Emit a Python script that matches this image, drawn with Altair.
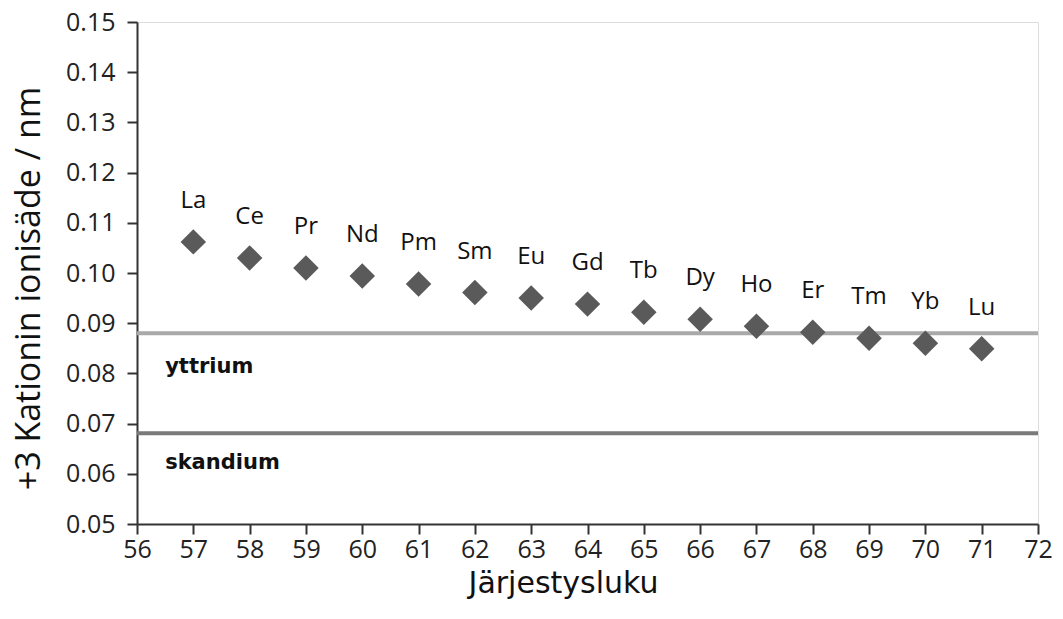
import altair as alt
import pandas as pd

elements = ["La", "Ce", "Pr", "Nd", "Pm", "Sm", "Eu", "Gd", "Tb", "Dy", "Ho", "Er", "Tm", "Yb", "Lu"]
atomic_numbers = [57, 58, 59, 60, 61, 62, 63, 64, 65, 66, 67, 68, 69, 70, 71]
radii = [0.1062, 0.1030, 0.1010, 0.0994, 0.0978, 0.0961, 0.0950, 0.0938, 0.0922, 0.0908, 0.0894, 0.0882, 0.0870, 0.0860, 0.0849]

ref_names = ["yttrium", "skandium"]
ref_values = [0.0880, 0.0681]
ref_label_y = [0.0813, 0.0621]
ref_colors = ["#a9a9a9", "#7a7a7a"]

df = pd.DataFrame({"el": elements, "z": atomic_numbers, "r": radii})
refs = pd.DataFrame({"name": ref_names, "r": ref_values, "ly": ref_label_y, "c": ref_colors, "x": [56.5, 56.5]})

FONT = "Open Sans"

xscale = alt.Scale(domain=[56, 72], nice=False, zero=False)
yscale = alt.Scale(domain=[0.05, 0.15], nice=False, zero=False)

xaxis = alt.Axis(values=list(range(56, 73)), format="d", grid=False, title="Järjestysluku",
                 labelFont=FONT, labelFontSize=25, labelColor="#222", titleFont="DejaVu Sans",
                 titleFontSize=30, titleFontWeight="normal", titleColor="#111",
                 titleX=426, titleY=59, titleAlign="center", titleBaseline="middle",
                 domainColor="#333", domainWidth=2, tickColor="#333", tickWidth=2, tickSize=10,
                 labelPadding=3, labelFlush=False)
yaxis = alt.Axis(values=[0.05, 0.06, 0.07, 0.08, 0.09, 0.10, 0.11, 0.12, 0.13, 0.14, 0.15], format=".2f",
                 grid=False, title="+3 Kationin ionisäde / nm",
                 labelFont=FONT, labelFontSize=25, labelColor="#222", titleFont=FONT,
                 titleFontSize=34, titleFontWeight="normal", titleColor="#111",
                 titleX=-108, titleY=266, titleAlign="center", titleBaseline="middle", titleAngle=270,
                 domainColor="#333", domainWidth=2, tickColor="#333", tickWidth=2, tickSize=10,
                 labelPadding=12, labelFlush=False)

rules = alt.Chart(refs).mark_rule(strokeWidth=4).encode(
    y=alt.Y("r:Q", scale=yscale, axis=yaxis),
    color=alt.Color("c:N", scale=None),
)

ref_text = alt.Chart(refs).mark_text(align="left", baseline="middle", font="DejaVu Sans",
                                     fontWeight="bold", fontSize=21, color="#111").encode(
    x=alt.X("x:Q", scale=xscale, axis=xaxis),
    y=alt.Y("ly:Q", scale=yscale, axis=yaxis),
    text="name:N",
)

points = alt.Chart(df).mark_point(shape="diamond", filled=True, size=650, color="#5a5a5a", opacity=1).encode(
    x=alt.X("z:Q", scale=xscale, axis=xaxis),
    y=alt.Y("r:Q", scale=yscale, axis=yaxis),
)

labels = alt.Chart(df).mark_text(dy=-41, font=FONT, fontSize=24, color="#111").encode(
    x=alt.X("z:Q", scale=xscale, axis=xaxis),
    y=alt.Y("r:Q", scale=yscale, axis=yaxis),
    text="el:N",
)

chart = alt.layer(rules, ref_text, points, labels).properties(
    width=901, height=502,
    autosize=alt.AutoSizeParams(type="none"),
    padding={"left": 129, "top": 14, "right": 17, "bottom": 87},
).configure_view(stroke=None).configure(background="white")

chart.save("out.html", embed_options={"renderer": "svg", "actions": False})
